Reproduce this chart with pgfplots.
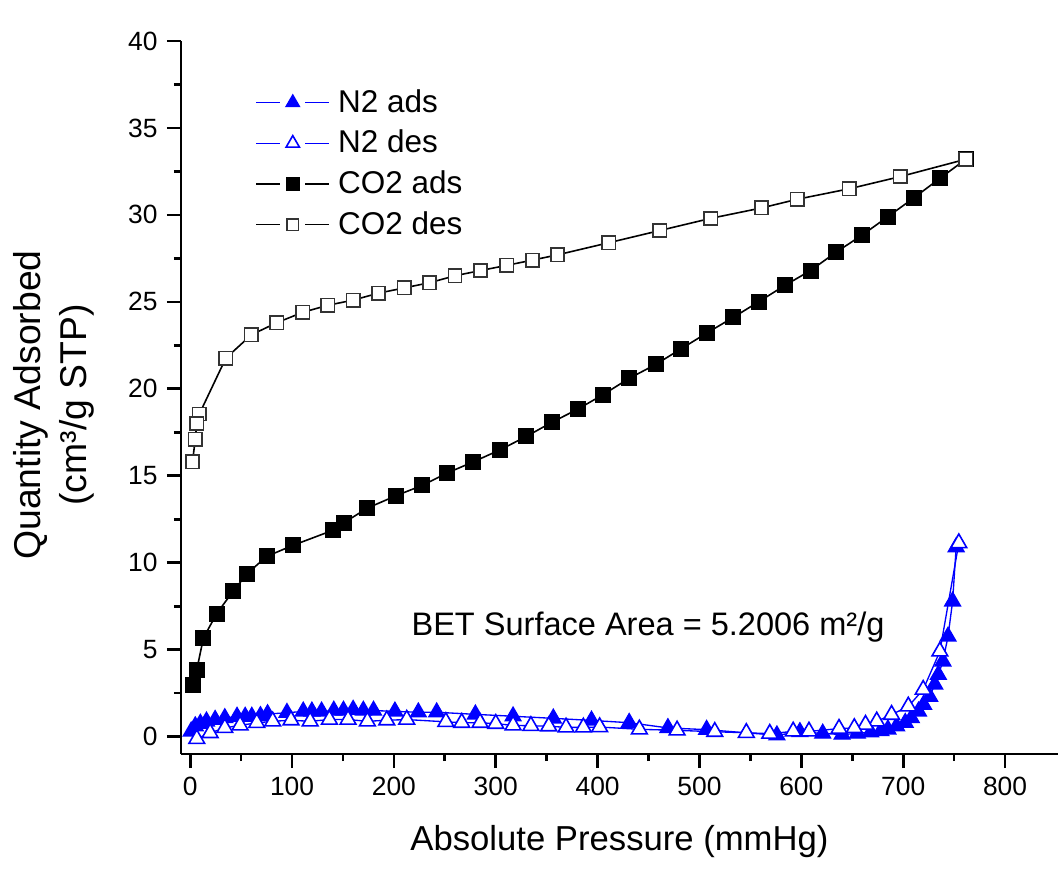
\documentclass[border=0pt]{standalone}
\usepackage{fontspec}
\setmainfont{Liberation Sans}
\usepackage{pgfplots}
\pgfplotsset{compat=1.18}
\definecolor{nblue}{RGB}{0,0,255}

\pgfplotstableread{
x y
1 0.30
5 0.60
10 0.75
16 0.88
24.5 0.97
34 1.07
46 1.15
54 1.15
60.5 1.15
69 1.19
76 1.30
95 1.37
111 1.45
119.5 1.45
129 1.45
141 1.50
150.5 1.50
160 1.55
170 1.50
180 1.50
201 1.45
224 1.40
242 1.40
280 1.28
317 1.17
356.5 1.05
394 0.93
431 0.80
469 0.50
507 0.40
576 0.08
598.6 0.27
621 0.18
640 0.12
655 0.18
668 0.26
678 0.33
685 0.42
693.5 0.60
702 0.80
708 1.07
715 1.45
720 1.84
726 2.30
731 3.00
734.5 3.56
739 4.33
744 5.76
748.5 7.78
752 10.90
}\ntwoads

\pgfplotstableread{
x y
754.6 11.13
736 4.90
719.6 2.70
705 1.74
688.6 1.26
674 0.88
663 0.69
652 0.50
637 0.46
607.5 0.30
592 0.30
569 0.17
546 0.22
515 0.28
478 0.36
441 0.42
402 0.55
386 0.53
369 0.53
352 0.60
334.5 0.62
317 0.65
300 0.74
284.6 0.80
266.6 0.80
251 0.85
212.6 0.98
193 0.94
174 0.88
155 0.98
136.7 0.98
117.8 0.88
99 0.94
81 0.88
65.4 0.79
49 0.65
34 0.50
19.6 0.21
6.5 -0.13
}\ntwodes

\pgfplotstableread{
x y
2.6 2.95
6.5 3.85
13 5.67
26 7.07
42.5 8.39
56 9.37
75 10.36
101 11.0
140 11.86
151 12.3
174 13.14
202 13.85
228 14.45
252 15.15
278 15.8
304.6 16.5
330 17.26
355 18.07
380.5 18.83
405 19.65
431 20.6
457 21.4
482 22.3
507 23.2
533 24.1
558 25.0
584 25.95
609 26.8
634 27.85
660 28.85
685 29.9
711 31.0
736 32.1
761.5 33.2
}\cotwoads

\pgfplotstableread{
x y
761.5 33.2
697 32.2
647 31.5
596 30.9
561 30.4
511 29.8
461 29.1
411 28.4
360.5 27.7
336 27.4
311 27.1
285 26.8
260 26.5
235 26.1
210 25.8
185 25.5
160 25.1
135 24.8
110.6 24.4
85 23.8
60 23.1
35 21.76
9 18.55
6.5 18.0
5 17.1
2.3 15.8
}\cotwodes

\begin{document}
\begin{tikzpicture}
\useasboundingbox (-67.875pt,-42.75pt) rectangle (329.625pt,282.75pt);
\begin{axis}[
  at={(0,0)}, anchor=south west,
  scale only axis, width=328.875pt, height=267.375pt,
  xmin=-9, xmax=852, ymin=-1, ymax=40,
  axis x line*=bottom, axis y line*=left,
  axis line style={line width=1pt,-},
  xtick={0,100,...,800}, ytick={0,5,...,40},
  minor x tick num=1, minor y tick num=1,
  tick align=outside, major tick length=5.3pt, minor tick length=2.7pt,
  every tick/.style={black, line width=1pt},
  tick label style={font=\fontsize{9.9}{11}\selectfont},
  /pgf/number format/assume math mode=true,
  xlabel={Absolute Pressure (mmHg)},
  xlabel style={font=\fontsize{13}{15}\selectfont, at={(axis description cs:0.5,-0.1234)}, anchor=center},
  ylabel={Quantity Adsorbed\\(cm³/g STP)},
  ylabel style={align=center, font=\fontsize{14}{17.4}\selectfont, at={(axis description cs:-0.1448,0.4895)}, anchor=center},
  legend style={at={(axis description cs:0.075,0.948)}, anchor=north west, draw=none, fill=none,
    font=\fontsize{11.8}{13}\selectfont, row sep=1.2pt,
    /tikz/every odd column/.append style={column sep=1pt}},
  legend cell align=left,
  legend image code/.code={
    \draw[#1] (0pt,0pt) -- (9pt,0pt);
    \draw[#1] (18.5pt,0pt) -- (27.5pt,0pt);
    \draw[#1, only marks, every mark/.append style={scale=0.85}] plot coordinates {(13.75pt,0pt)};},
]
\addplot[nblue, line width=0.5pt, mark=triangle*, mark size=3.4pt, mark options={solid, fill=nblue, line width=0.5pt}] table {\ntwoads};
\addlegendentry{N2 ads}
\addplot[nblue, line width=0.5pt, mark=triangle*, mark size=3.4pt, mark options={solid, fill=white, draw=nblue, line width=0.6pt}] table {\ntwodes};
\addlegendentry{N2 des}
\addplot[black, line width=0.6pt, mark=square*, mark size=2.7pt, mark options={solid, fill=black}] table {\cotwoads};
\addlegendentry{CO2 ads}
\addplot[black, line width=0.6pt, mark=square*, mark size=2.5pt, mark options={solid, fill=white, draw=black!80, line width=0.6pt}] table {\cotwodes};
\addlegendentry{CO2 des}
\node[font=\fontsize{12.2}{14}\selectfont] at (axis cs:449.5,6.3) {BET Surface Area = 5.2006 m²/g};
\end{axis}
\end{tikzpicture}
\end{document}
